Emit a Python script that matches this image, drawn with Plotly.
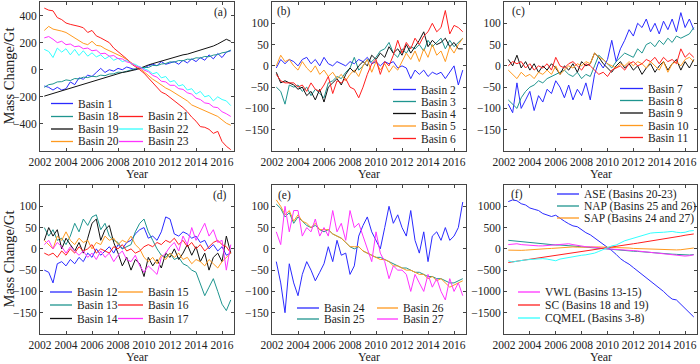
import plotly.graph_objects as go

# ---------------- data ----------------
TIME = [2002.33, 2002.67, 2003.00, 2003.33, 2003.67, 2004.00, 2004.33, 2004.67, 2005.00, 2005.33, 2005.67,
        2006.00, 2006.33, 2006.67, 2007.00, 2007.33, 2007.67, 2008.00, 2008.33, 2008.67, 2009.00, 2009.33,
        2009.67, 2010.00, 2010.33, 2010.67, 2011.00, 2011.33, 2011.67, 2012.00, 2012.33, 2012.67, 2013.00,
        2013.33, 2013.67, 2014.00, 2014.33, 2014.67, 2015.00, 2015.33, 2015.67, 2016.00, 2016.33, 2016.67]

# panel (a)
basin1 = [-120,-130,-150,-130,-150,-140,-90,-110,-60,-70,-40, -50,-20,10,-20,0,-10,10,0,20,10,0,
          20,10,30,40,30,60,40,50,60,40,70, 50,80,60,90,70,110,80,120,90,130,140]
basin18 = [-130,-110,-105,-90,-88,-75,-80,-65,-68,-55,-58, -48,-52,-40,-44,-32,-30,-18,-20,-8,-2,8,
           6,18,16,32,30,42,46,58,56,68,66, 78,76,88,86,98,96,108,112,125,130,145]
basin19 = [-195,-185,-180,-170,-160,-150,-140,-130,-120,-110,-100, -90,-80,-70,-60,-50,-40,-30,-20,-15,-10,0,
           10,25,35,45,55,65,75,85,90,100,110, 115,125,135,145,155,165,175,190,205,225,210]
basin20 = [290,320,300,295,285,275,255,230,215,195,185, 210,180,175,155,140,130,115,95,75,55,30,
           10,-15,-45,-70,-90,-115,-135,-150,-170,-190,-210, -230,-260,-275,-290,-300,-320,-335,-345,-370,-395,-410]
basin21 = [455,440,435,385,370,345,335,330,320,310,275, 290,250,235,215,200,160,135,110,80,45,25,
           0,-25,-60,-95,-135,-165,-180,-205,-225,-250,-280, -310,-350,-380,-420,-425,-440,-470,-455,-530,-565,-590]
basin22 = [150,135,90,160,130,155,110,150,105,140,100, 125,95,110,80,100,70,85,60,70,45,40,
           20,10,-5,-30,-20,-60,-50,-90,-80,-120,-110, -150,-140,-180,-160,-200,-190,-230,-200,-220,-230,-265]
basin23 = [235,245,225,200,210,185,190,170,175,155,160, 140,145,118,122,100,105,82,80,58,50,28,
           18,-2,-15,-42,-55,-85,-90,-115,-115,-140,-145, -170,-180,-210,-220,-245,-250,-275,-280,-310,-325,-345]

# panel (b)
basin2 = [-5,15,5,15,10,0,15,20,5,15,0, 20,5,0,10,5,0,10,5,15,10,20,
          5,10,0,10,5,10,-5,0,-5,-30,-10, -20,-10,-25,-15,-20,-15,-30,-15,0,-45,-10]
basin3 = [-50,-60,-90,-45,-50,-45,-60,-50,-70,-55,-65, -75,-40,-35,-25,-30,-15,-5,20,-10,0,15,
          10,20,35,40,55,30,20,40,30,45,40, 50,35,60,45,55,65,40,60,45,55,65]
basin4 = [-15,-40,-35,-40,-45,-55,-50,-70,-60,-80,-55, -85,-50,-40,-30,-45,-20,-5,-15,0,10,0,
          25,15,30,20,45,30,40,25,50,30,45, 60,80,45,60,50,55,65,45,55,40,40]
basin5 = [0,25,10,15,0,-10,10,-5,-15,0,-20, -10,-25,-15,-30,-20,-35,-20,-10,-25,0,15,
          -15,10,-10,5,-15,0,-10,10,30,15,35, 10,40,20,50,25,35,10,45,30,50,65]
basin6 = [-20,-35,-40,-40,-40,-50,-45,-60,-40,-55,-60, -45,-25,-65,-35,-40,-30,-50,-55,-75,-50,-20,
          5,15,-20,10,0,25,60,30,55,40,65, 50,70,80,100,80,90,130,75,95,90,80]

# panel (c)
basin7 = [-90,-110,-40,-100,-80,-60,-105,-70,-85,-55,-65, -35,-50,-75,-45,-80,-55,-70,-40,-80,-20,10,
          -5,15,60,10,40,60,85,70,100,90,110, 80,100,75,105,85,110,80,125,90,110,85]
basin8 = [-80,-90,-100,-75,-60,-50,-45,-35,-40,-30,-25, -20,-15,-10,-20,-25,-15,-30,-20,-25,0,25,
          15,5,-5,10,20,30,25,20,40,30,50, 55,45,60,50,65,55,70,65,70,75,90]
basin9 = [15,0,25,-5,10,-10,5,-15,0,-10,5, -5,-20,0,-10,5,-15,10,0,5,30,20,
          5,-5,-15,0,10,-5,5,-10,0,-20,-5, 5,-15,0,10,-10,5,15,-10,10,-5,15]
basin10 = [-10,-20,-30,-15,-25,-20,-30,-15,-20,-10,-20, 0,-20,-10,0,-5,5,0,10,5,30,20,
           15,5,0,-5,5,0,10,0,10,5,-5, 10,0,-10,10,-15,5,10,0,15,20,10]
basin11 = [0,10,5,10,-5,5,-10,0,-5,5,-10, 20,0,-5,5,10,0,-10,5,0,-10,-20,
           -15,-25,-10,-5,0,-10,5,10,0,5,15, 10,20,5,20,10,15,5,40,20,30,20]

# panel (d)
basin12 = [-50,-55,-80,-35,-30,-40,-25,-35,-20,-30,-10, -20,0,-15,-5,5,-10,10,0,15,20,35,
           45,50,25,30,20,40,75,70,35,30,40, 35,25,30,15,20,0,10,-5,5,-15,-10]
basin13 = [50,30,45,20,25,10,30,60,40,70,55, 75,80,45,60,30,20,15,0,5,10,40,
           60,70,40,20,0,-15,-20,-10,-25,-20,-35, -40,-50,-55,-80,-110,-90,-70,-100,-130,-145,-120]
basin14 = [20,50,30,45,0,25,10,-5,15,-10,25, 60,70,20,45,55,15,-10,-40,-20,-50,-25,
           -35,-65,-20,-40,-25,-45,-10,-20,0,-25,-10, 10,-15,5,-30,-10,-50,-20,-10,-30,30,-10]
basin15 = [20,10,0,30,20,40,20,10,25,15,20, 0,15,10,30,20,25,10,20,15,30,10,
           0,-20,-30,-20,-35,-15,-25,-10,-20,-10,-25, -20,-35,-25,-30,-40,-25,-35,-45,-30,-20,-10]
basin16 = [-10,-15,-10,-20,-5,-15,0,-10,5,-5,0, 10,-10,0,-5,-10,5,0,10,-5,0,-10,
           -5,5,10,5,15,10,20,15,25,10,20, 5,15,0,10,-5,5,15,20,10,5,-10]
basin17 = [10,20,0,15,5,-10,5,-5,-15,-5,-20, -10,-25,-5,-20,-10,-30,-15,-5,-25,-30,-15,
           -40,-55,-40,-50,-60,-20,-10,5,15,-5,30, 10,50,20,40,60,30,45,15,20,-50,10]

# panel (e)
basin24 = [-30,-80,-150,-35,-80,-110,-60,-30,-50,-75,-55, -35,5,-30,20,-15,-10,-60,-40,30,55,75,
           40,20,0,50,100,60,80,50,30,90,20, -10,40,-30,30,40,20,50,20,30,50,110]
basin25 = [105,95,75,85,60,75,65,55,50,55,45, 40,45,35,30,25,15,5,0,5,-5,-10,
           -15,-20,-20,-25,-30,-35,-40,-45,-45,-50,-55, -55,-60,-65,-65,-70,-70,-75,-80,-80,-75,-70]
basin26 = [115,100,80,90,65,80,65,60,50,60,45, 45,45,35,30,25,15,5,5,5,-5,-10,
           -15,-20,-25,-25,-30,-40,-40,-45,-50,-50,-55, -60,-60,-70,-65,-75,-70,-80,-90,-85,-80,-75]
basin27 = [40,10,100,40,90,90,30,50,40,70,30, 50,30,90,40,60,20,90,50,60,30,0,
           -30,40,-10,-30,-70,-40,-50,-50,-60,-100,-60, -80,-100,-60,-90,-70,-100,-120,-70,-100,-80,-110]

# panel (f)
ase = [1110,1150,1130,1060,1030,960,930,900,830,800,760, 790,710,650,590,540,520,450,380,330,260,190,
       120,40,-40,-130,-230,-300,-360,-440,-520,-600,-680, -750,-830,-920,-1000,-1100,-1180,-1200,-1300,-1400,-1500,-1600]
nap = [200,190,170,165,150,140,130,120,110,105,100, 90,90,85,80,70,60,50,40,30,20,10,
       5,0,-10,-20,-30,-40,-50,-55,-60,-70,-80, -85,-90,-100,-110,-115,-125,-130,-140,-150,-145,-135]
sap = [-30,-35,-40,-35,-30,-20,-15,-10,0,5,10, 20,30,35,50,45,40,35,40,45,50,45,
       40,30,35,30,30,25,20,10,5,0,0, -5,-10,-20,-25,-30,-30,-25,-20,-10,0,20]
vwl = [100,110,120,100,90,80,75,70,70,80,90, 100,110,120,120,100,80,60,50,45,40,25,
       10,0,-10,-15,-20,-30,-35,-40,-50,-60,-80, -85,-90,-100,-110,-120,-130,-140,-150,-170,-160,-140]
sc = [-320,-305,-285,-270,-255,-240,-230,-215,-200,-185,-170, -150,-140,-125,-110,-100,-85,-70,-55,-45,-30,-10,
      5,20,35,50,60,80,100,120,135,150,170, 185,200,220,235,250,270,285,300,320,335,350]
cqmel = [-280,-310,-290,-270,-260,-250,-240,-235,-230,-240,-260, -280,-240,-220,-200,-190,-170,-150,-140,-120,-100,-60,
         -10,30,70,90,150,190,220,250,290,320,350, 370,380,380,390,400,410,390,380,390,420,430]

X_TICKS = [2002, 2004, 2006, 2008, 2010, 2012, 2014, 2016]
Y_TICKS_SMALL = [-150, -100, -50, 0, 50, 100]
Y_TICKS_A = [-400, -200, 0, 200, 400]
Y_TICKS_F = [-1500, -1000, -500, 0, 500, 1000]
PANEL_LABELS = ["(a)", "(b)", "(c)", "(d)", "(e)", "(f)"]

# ---------------- styling ----------------
BLUE = "#2a2aff"
TEAL = "#1f958f"
BLACK = "#111111"
ORANGE = "#ff9a1f"
RED = "#ff1f1f"
CYAN = "#33ffff"
MAGENTA = "#ff33ff"
FONT = "Liberation Serif"
W, H = 700, 364


def px(x):
    return x / W


def py(y):
    return 1 - y / H


SERIES = [
    (0, "Basin 1", basin1, BLUE), (0, "Basin 18", basin18, TEAL), (0, "Basin 19", basin19, BLACK),
    (0, "Basin 20", basin20, ORANGE), (0, "Basin 21", basin21, RED), (0, "Basin 22", basin22, CYAN),
    (0, "Basin 23", basin23, MAGENTA),
    (1, "Basin 2", basin2, BLUE), (1, "Basin 3", basin3, TEAL), (1, "Basin 4", basin4, BLACK),
    (1, "Basin 5", basin5, ORANGE), (1, "Basin 6", basin6, RED),
    (2, "Basin 7", basin7, BLUE), (2, "Basin 8", basin8, TEAL), (2, "Basin 9", basin9, BLACK),
    (2, "Basin 10", basin10, ORANGE), (2, "Basin 11", basin11, RED),
    (3, "Basin 12", basin12, BLUE), (3, "Basin 13", basin13, TEAL), (3, "Basin 14", basin14, BLACK),
    (3, "Basin 15", basin15, ORANGE), (3, "Basin 16", basin16, RED), (3, "Basin 17", basin17, MAGENTA),
    (4, "Basin 24", basin24, BLUE), (4, "Basin 25", basin25, TEAL), (4, "Basin 26", basin26, ORANGE),
    (4, "Basin 27", basin27, MAGENTA),
    (5, "ASE (Basins 20-23)", ase, BLUE), (5, "NAP (Basins 25 and 26)", nap, TEAL),
    (5, "SAP (Basins 24 and 27)", sap, ORANGE), (5, "VWL (Basins 13-15)", vwl, MAGENTA),
    (5, "SC (Basins 18 and 19)", sc, RED), (5, "CQMEL (Basins 3-8)", cqmel, CYAN),
]

LEGEND_POS = {
    "Basin 1": (51, 73, 103.5), "Basin 18": (51, 73, 116.5), "Basin 19": (51, 73, 129), "Basin 20": (51, 73, 141.5),
    "Basin 21": (119, 143, 116.5), "Basin 22": (119, 143, 129), "Basin 23": (119, 143, 141.5),
    "Basin 2": (393, 416, 89.5), "Basin 3": (393, 416, 101.5), "Basin 4": (393, 416, 113.5),
    "Basin 5": (393, 416, 126), "Basin 6": (393, 416, 138.5),
    "Basin 7": (620, 643, 88.5), "Basin 8": (620, 643, 100.5), "Basin 9": (620, 643, 113),
    "Basin 10": (620, 643, 125.5), "Basin 11": (620, 643, 137.5),
    "Basin 12": (50, 72, 292), "Basin 13": (50, 72, 305), "Basin 14": (50, 72, 318.5),
    "Basin 15": (118, 143, 292), "Basin 16": (118, 143, 305), "Basin 17": (118, 143, 318.5),
    "Basin 24": (297, 319, 308), "Basin 25": (297, 319, 319),
    "Basin 26": (377, 398, 308), "Basin 27": (377, 398, 319),
    "ASE (Basins 20-23)": (557, 579, 194), "NAP (Basins 25 and 26)": (557, 579, 206),
    "SAP (Basins 24 and 27)": (557, 579, 218),
    "VWL (Basins 13-15)": (518, 540, 292), "SC (Basins 18 and 19)": (518, 540, 305),
    "CQMEL (Basins 3-8)": (518, 540, 318),
}

PANELS = [(40, 234, 2, 151), (272, 466, 2, 151), (504, 697, 2, 151),
          (40, 234, 185, 334), (272, 466, 185, 334), (504, 697, 185, 334)]
Y_RANGES = [[-600, 500], [-200, 150], [-200, 150], [-200, 150], [-200, 150], [-2000, 1500]]
Y_TICKVALS = [Y_TICKS_A, Y_TICKS_SMALL, Y_TICKS_SMALL, Y_TICKS_SMALL, Y_TICKS_SMALL, Y_TICKS_F]
LABEL_POS = [(220, 13), (284, 12), (518, 12), (220, 195), (284, 195), (517, 194)]

fig = go.Figure()

for p, name, vals, col in SERIES:
    suffix = "" if p == 0 else str(p + 1)
    fig.add_trace(go.Scatter(x=TIME, y=vals, mode="lines", name=name,
                             line=dict(color=col, width=1), showlegend=False,
                             xaxis="x" + suffix, yaxis="y" + suffix))

layout = dict(
    width=W, height=H, margin=dict(l=0, r=0, t=0, b=0, pad=0, autoexpand=False),
    paper_bgcolor="white", plot_bgcolor="white",
    font=dict(family=FONT, size=11.5, color="#222222"),
)
axis_common = dict(showline=True, linecolor="#444444", linewidth=1, mirror="ticks",
                   ticks="inside", ticklen=3, tickcolor="#444444", tickwidth=1,
                   showgrid=False, zeroline=False, automargin=False,
                   tickfont=dict(family=FONT, size=11.5, color="#222222"))
for i, (l, r, t, b) in enumerate(PANELS):
    suffix = "" if i == 0 else str(i + 1)
    layout["xaxis" + suffix] = dict(axis_common, domain=[px(l), px(r)], range=[2002, 2016.92],
                                    tickmode="array", tickvals=X_TICKS,
                                    anchor="y" + suffix)
    layout["yaxis" + suffix] = dict(axis_common, domain=[py(b), py(t)], range=Y_RANGES[i],
                                    tickmode="array", tickvals=Y_TICKVALS[i],
                                    anchor="x" + suffix)
fig.update_layout(**layout)

shapes = []
annotations = []
for p, name, vals, col in SERIES:
    x0, x1, y = LEGEND_POS[name]
    shapes.append(dict(type="line", xref="paper", yref="paper", x0=px(x0), x1=px(x1),
                       y0=py(y), y1=py(y), line=dict(color=col, width=1.3)))
    annotations.append(dict(text=name, xref="paper", yref="paper", x=px(x1 + 3), y=py(y),
                            xanchor="left", yanchor="middle", showarrow=False,
                            font=dict(family=FONT, size=11.5, color="#222222")))

for i, (l, r, t, b) in enumerate(PANELS):
    annotations.append(dict(text="Year", xref="paper", yref="paper", x=px((l + r) / 2), y=py(b + 23),
                            xanchor="center", yanchor="middle", showarrow=False,
                            font=dict(family=FONT, size=12, color="#222222")))
    lx, ly = LABEL_POS[i]
    annotations.append(dict(text=PANEL_LABELS[i], xref="paper", yref="paper", x=px(lx), y=py(ly),
                            xanchor="center", yanchor="middle", showarrow=False,
                            font=dict(family=FONT, size=11.5, color="#222222")))

for (l, r, t, b) in (PANELS[0], PANELS[3]):
    annotations.append(dict(text="Mass Change/Gt", xref="paper", yref="paper", x=px(8), y=py((t + b) / 2),
                            xanchor="center", yanchor="middle", textangle=-90, showarrow=False,
                            font=dict(family=FONT, size=14.5, color="#222222")))

fig.update_layout(shapes=shapes, annotations=annotations)
fig.write_html("out.html", config={"displayModeBar": False},
               post_script="document.body.style.margin='0';document.body.style.overflow='hidden';")
